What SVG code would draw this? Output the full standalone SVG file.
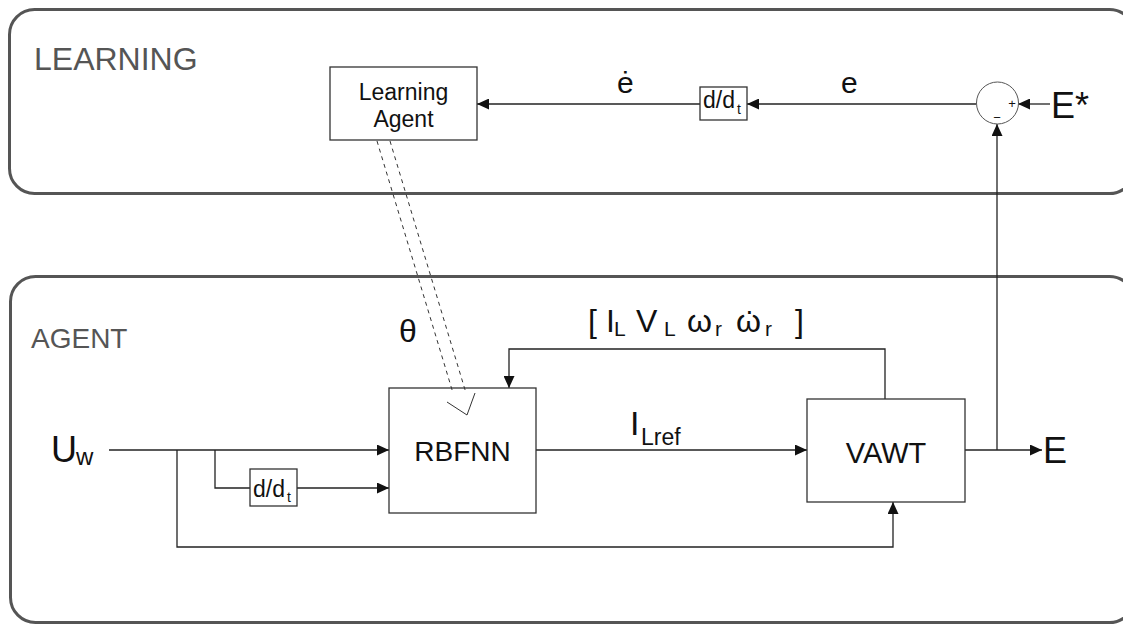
<svg xmlns="http://www.w3.org/2000/svg" width="1123" height="625" viewBox="0 0 1123 625">
  <style>
    .panel { fill: none; stroke: #555; stroke-width: 3; }
    .panel-title { font-family: "Liberation Sans", Arial, sans-serif; fill: #555; }
    .box { fill: #fff; stroke: #333; stroke-width: 1.3; }
    .wire { fill: none; stroke: #222; stroke-width: 1.3; }
    .txt { font-family: "Liberation Sans", Arial, sans-serif; fill: #111; }
    .dash { fill: none; stroke: #333; stroke-width: 1; stroke-dasharray: 4 4; }
  </style>
  <defs>
    <marker id="arrow" markerUnits="userSpaceOnUse" markerWidth="12" markerHeight="11" refX="12" refY="5.5" orient="auto">
      <path d="M0,0 L12,5.5 L0,11 Z" fill="#111"/>
    </marker>
  </defs>

  <rect width="1123" height="625" fill="#fff"/>

  <!-- Panels -->
  <g id="learning-panel">
    <rect class="panel" x="9.5" y="9.5" width="1125" height="184" rx="25" ry="25"/>
    <text class="panel-title" x="34" y="70" font-size="32">LEARNING</text>
  </g>
  <g id="agent-panel">
    <rect class="panel" x="10.5" y="276.5" width="1124" height="346" rx="25" ry="25"/>
    <text class="panel-title" x="31" y="348" font-size="28">AGENT</text>
  </g>

  <!-- Connectors -->
  <g id="connectors">
    <path class="wire" d="M109,450 H389" marker-end="url(#arrow)"/>
    <path class="wire" d="M177,450 V547 H893 V502" marker-end="url(#arrow)"/>
    <path class="wire" d="M215,450 V488 H250"/>
    <path class="wire" d="M297,488 H389" marker-end="url(#arrow)"/>
    <path class="wire" d="M536,450 H807" marker-end="url(#arrow)"/>
    <path class="wire" d="M885,399 V349 H509 V388" marker-end="url(#arrow)"/>
    <path class="wire" d="M965,450 H1042" marker-end="url(#arrow)"/>
    <path class="wire" d="M997,450 V124" marker-end="url(#arrow)"/>
    <path class="wire" d="M1050,104 H1018" marker-end="url(#arrow)"/>
    <path class="wire" d="M976,104 H747" marker-end="url(#arrow)"/>
    <path class="wire" d="M700,104 H477" marker-end="url(#arrow)"/>
  </g>

  <!-- Nodes -->
  <g id="learning-agent">
    <rect class="box" x="330" y="67" width="147" height="73"/>
    <text class="txt" x="403.5" y="100" font-size="23" text-anchor="middle">Learning</text>
    <text class="txt" x="403.5" y="127" font-size="23" text-anchor="middle">Agent</text>
  </g>

  <g id="diff-top">
    <rect class="box" x="700" y="87" width="47" height="33"/>
    <text class="txt" x="703" y="108" font-size="23">d/d</text>
    <text class="txt" x="737" y="114" font-size="14">t</text>
  </g>

  <g id="sum">
    <circle cx="997.5" cy="103" r="21" fill="#fff" stroke="#555" stroke-width="1"/>
    <text class="txt" x="1012" y="108" font-size="13" text-anchor="middle">+</text>
    <text class="txt" x="997" y="122" font-size="13" text-anchor="middle">−</text>
  </g>

  <g id="rbfnn">
    <rect class="box" x="389" y="388" width="147" height="125"/>
    <text class="txt" x="462.5" y="461" font-size="28" text-anchor="middle">RBFNN</text>
  </g>

  <g id="diff-bottom">
    <rect class="box" x="250" y="469" width="47" height="37"/>
    <text class="txt" x="253" y="497" font-size="23">d/d</text>
    <text class="txt" x="287" y="502" font-size="14">t</text>
  </g>

  <g id="vawt">
    <rect class="box" x="807" y="399" width="158" height="103"/>
    <text class="txt" x="886" y="463" font-size="29" text-anchor="middle">VAWT</text>
  </g>

  <!-- parameter update θ: dashed double-line arrow drawn over the boxes -->
  <g id="theta-arrow">
    <line class="dash" x1="377" y1="141" x2="453" y2="393"/>
    <line class="dash" x1="390" y1="141" x2="466" y2="393"/>
    <polyline fill="none" stroke="#333" stroke-width="1" points="447,402 467,415 475,393"/>
  </g>

  <!-- Signal labels -->
  <g id="labels">
    <text class="txt" x="617" y="93" font-size="30">ė</text>
    <text class="txt" x="841" y="93" font-size="30">e</text>
    <text class="txt" x="1051" y="118" font-size="36">E*</text>
    <text class="txt" x="399" y="342" font-size="32">θ</text>
    <text class="txt" font-size="32" y="332">
      <tspan x="588">[</tspan>
      <tspan x="606">I</tspan>
      <tspan x="614" y="336" font-size="21">L</tspan>
      <tspan x="636" y="332">V</tspan>
      <tspan x="664" y="336" font-size="21">L</tspan>
      <tspan x="687" y="332">ω</tspan>
      <tspan x="715" y="336" font-size="21">r</tspan>
      <tspan x="736" y="332">ω</tspan>
      <tspan x="765" y="336" font-size="21">r</tspan>
      <tspan x="795" y="332">]</tspan>
    </text>
    <!-- time-derivative dot over the second ω -->
    <text class="txt" x="749.5" y="314" font-size="28" text-anchor="middle">.</text>
    <text class="txt" x="630" y="435" font-size="34">I</text>
    <text class="txt" x="641" y="445" font-size="23">Lref</text>
    <text class="txt" x="51" y="462" font-size="36">U</text>
    <text class="txt" x="76" y="465" font-size="24">w</text>
    <text class="txt" x="1043" y="463" font-size="36">E</text>
  </g>
</svg>
